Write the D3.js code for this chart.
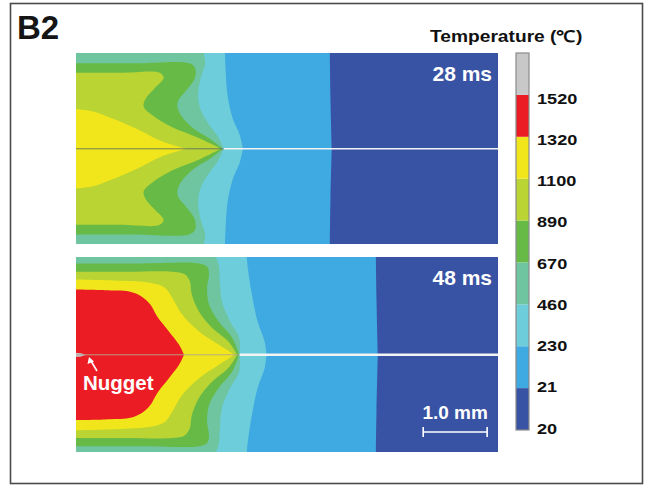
<!DOCTYPE html>
<html>
<head>
<meta charset="utf-8">
<script src="https://cdn.jsdelivr.net/npm/d3@7"></script>
<style>
  body { margin: 0; background: #fff; }
  svg { display: block; font-family: "Liberation Sans", Arial, sans-serif; }
</style>
</head>
<body>
<div id="chart"></div>
<script>
// Temperature bands (lower bound of each band, bottom to top) and their colours
const bandLabels = ["20", "21", "230", "460", "670", "890", "1100", "1320", "1520"];
const bandColors = ["#3953a4", "#3fa9e1", "#6dcdda", "#6ec5a0", "#68ba47", "#b9d433", "#f1e61c", "#ec1c24", "#c8c8c8"];

// Isotherm boundaries, upper half only (x: mm from left edge, y: mm above the interface).
// The region hotter than the level lies to the left of each curve; lower half is mirrored.
// 28 ms
const iso28_21   = [[3.97, 1.5], [3.98, 0.77], [4.0, 0]];
const iso28_230  = [[2.33, 1.5], [2.34, 1.23], [2.37, 0.84], [2.45, 0.48], [2.56, 0.22], [2.61, 0]];
const iso28_460  = [[2.0, 1.5], [2.02, 1.34], [1.95, 1.11], [1.91, 0.84], [1.95, 0.61], [2.06, 0.41], [2.22, 0.19], [2.31, 0]];
const iso28_670  = [[0, 1.34], [0.9, 1.34], [1.77, 1.34], [1.86, 1.27], [1.86, 1.11], [1.73, 0.92], [1.59, 0.73], [1.61, 0.58], [1.81, 0.34], [2.12, 0.14], [2.3, 0]];
const iso28_890  = [[0, 1.19], [0.7, 1.19], [1.31, 1.19], [1.37, 1.11], [1.23, 0.95], [1.08, 0.77], [1.06, 0.66], [1.19, 0.53], [1.5, 0.34], [1.92, 0.17], [2.27, 0]];
const iso28_1100 = [[0, 0.62], [0.25, 0.59], [0.56, 0.48], [0.98, 0.3], [1.34, 0.12], [1.73, 0]];
// 48 ms
const iso48_21   = [[4.69, 1.53], [4.7, 0.85], [4.72, 0]];
const iso48_230  = [[2.67, 1.53], [2.7, 1.26], [2.75, 0.95], [2.84, 0.52], [2.95, 0.21], [2.98, 0]];
const iso48_460  = [[2.19, 1.53], [2.23, 1.41], [2.25, 1.15], [2.28, 0.84], [2.41, 0.52], [2.55, 0.27], [2.56, 0]];
const iso48_670  = [[0, 1.43], [1.0, 1.43], [1.92, 1.43], [2.05, 1.38], [2.08, 1.26], [2.05, 1.05], [2.08, 0.79], [2.23, 0.52], [2.44, 0.27], [2.55, 0]];
const iso48_890  = [[0, 1.3], [0.8, 1.3], [1.5, 1.3], [1.7, 1.26], [1.78, 1.15], [1.81, 0.95], [1.92, 0.68], [2.12, 0.43], [2.39, 0.2], [2.52, 0]];
const iso48_1100 = [[0, 1.18], [0.72, 1.16], [1.14, 1.13], [1.39, 1.05], [1.5, 0.9], [1.66, 0.63], [1.92, 0.37], [2.23, 0.16], [2.48, 0]];
const iso48_1320 = [[0, 1.02], [0.45, 1.01], [0.83, 0.99], [1.03, 0.91], [1.16, 0.79], [1.27, 0.6], [1.45, 0.37], [1.61, 0.16], [1.69, 0]];
const iso48_1520 = [[0, 0.03], [0.08, 0.025], [0.15, 0]];

const panelLabels = ["28 ms", "48 ms"];
const notchTips = [2.31, 2.56]; // where the sheet interface opens (mm)
const panelWidth = 6.6; // mm
const scaleBar = [5.43, 6.43]; // 1.0 mm

const panels = [
  { label: panelLabels[0], tip: notchTips[0], top: 53, bottom: 244, yDomain: [1.5, -1.49], gap: 1.4,
    isos: [iso28_21, iso28_230, iso28_460, iso28_670, iso28_890, iso28_1100] },
  { label: panelLabels[1], tip: notchTips[1], top: 257, bottom: 452, yDomain: [1.53, -1.52], gap: 2.6,
    isos: [iso48_21, iso48_230, iso48_460, iso48_670, iso48_890, iso48_1100, iso48_1320, iso48_1520] }
];

const W = 650, H = 489;
const svg = d3.select("#chart").append("svg").attr("width", W).attr("height", H);

// outer frame
svg.append("rect")
  .attr("x", 10.5).attr("y", 3.5)
  .attr("width", 632).attr("height", 480)
  .attr("fill", "none").attr("stroke", "#4a4a4a").attr("stroke-width", 1.6);

svg.append("text")
  .attr("x", 17).attr("y", 39)
  .attr("font-size", 33).attr("font-weight", "bold").attr("fill", "#151515")
  .text("B2");

const x = d3.scaleLinear().domain([0, panelWidth]).range([76, 498]);

function halfPath(pts, y, sign) {
  const p = pts.map(d => [d[0], sign * d[1]]);
  if (pts[0][1] >= 1.49) p.unshift([pts[0][0], sign * (pts[0][1] + 0.25)]);
  const line = d3.line()
    .x(d => x(d[0]))
    .y(d => y(d[1]))
    .curve(d3.curveCatmullRom.alpha(0.5));
  return line(p) + `L${x(-0.2)},${y(0)}L${x(-0.2)},${y(p[0][1])}Z`;
}

panels.forEach((panel, pi) => {
  const y = d3.scaleLinear().domain(panel.yDomain).range([panel.top, panel.bottom]);
  const clipId = "clip" + pi;
  svg.append("clipPath").attr("id", clipId)
    .append("rect")
    .attr("x", x(0)).attr("y", panel.top)
    .attr("width", x(panelWidth) - x(0)).attr("height", panel.bottom - panel.top);

  const g = svg.append("g").attr("clip-path", `url(#${clipId})`);

  // coldest band fills the panel
  g.append("rect")
    .attr("x", x(0)).attr("y", panel.top)
    .attr("width", x(panelWidth) - x(0)).attr("height", panel.bottom - panel.top)
    .attr("fill", bandColors[0]);

  panel.isos.forEach((iso, i) => {
    [1, -1].forEach(sign => {
      g.append("path")
        .attr("d", halfPath(iso, y, sign))
        .attr("fill", bandColors[i + 1]);
    });
  });

  // interface: closed part and the open gap beyond the notch tip
  g.append("line")
    .attr("x1", x(0)).attr("x2", x(panel.tip))
    .attr("y1", y(0)).attr("y2", y(0))
    .attr("stroke", pi === 0 ? "#5a6a60" : "#b0a0a0")
    .attr("stroke-width", 0.8);
  g.append("line")
    .attr("x1", x(panel.tip)).attr("x2", x(panelWidth))
    .attr("y1", y(0)).attr("y2", y(0))
    .attr("stroke", "#f4f4f4")
    .attr("stroke-width", panel.gap);

  svg.append("text")
    .attr("x", 492).attr("y", panel.top + 28)
    .attr("text-anchor", "end")
    .attr("font-size", 21).attr("font-weight", "bold").attr("fill", "#fff")
    .text(panel.label);

  if (pi === 1) {
    // scale bar
    const yb = 432;
    svg.append("text")
      .attr("x", (x(scaleBar[0]) + x(scaleBar[1])) / 2).attr("y", 419)
      .attr("text-anchor", "middle")
      .attr("font-size", 19).attr("font-weight", "bold").attr("fill", "#fff")
      .text("1.0 mm");
    svg.append("line")
      .attr("x1", x(scaleBar[0])).attr("x2", x(scaleBar[1]))
      .attr("y1", yb).attr("y2", yb)
      .attr("stroke", "#fff").attr("stroke-width", 1.6);
    scaleBar.forEach(v => {
      svg.append("line")
        .attr("x1", x(v)).attr("x2", x(v))
        .attr("y1", yb - 5).attr("y2", yb + 5)
        .attr("stroke", "#fff").attr("stroke-width", 1.6);
    });

    // nugget annotation
    svg.append("line")
      .attr("x1", 97).attr("y1", 371)
      .attr("x2", 91).attr("y2", 361)
      .attr("stroke", "#fff").attr("stroke-width", 1.6);
    svg.append("path")
      .attr("d", "M89,357 L87.5,364 L94,361.5 Z")
      .attr("fill", "#fff");
    svg.append("text")
      .attr("x", 83).attr("y", 390)
      .attr("font-size", 20.5).attr("font-weight", "bold").attr("fill", "#fff")
      .text("Nugget");
  }
});

// colour bar
const barX = 516, barW = 13;
const yBar = d3.scaleLinear().domain([0, bandColors.length]).range([430, 53]);
const bar = svg.append("g");
bandColors.forEach((c, i) => {
  bar.append("rect")
    .attr("x", barX).attr("y", yBar(i + 1))
    .attr("width", barW).attr("height", yBar(i) - yBar(i + 1))
    .attr("fill", c);
});
bar.append("rect")
  .attr("x", barX).attr("y", yBar(bandColors.length))
  .attr("width", barW).attr("height", yBar(0) - yBar(bandColors.length))
  .attr("fill", "none").attr("stroke", "#8a8a8a").attr("stroke-width", 1.2);

// tick labels are slightly wide in the figure, so stretch them horizontally
const yLab = d3.scalePoint().domain(bandLabels.slice().reverse()).range([98, 428]);
svg.append("g")
  .attr("transform", "translate(537,0) scale(1.17,1)")
  .selectAll("text")
  .data(bandLabels)
  .enter()
  .append("text")
  .attr("x", 0)
  .attr("y", d => yLab(d))
  .attr("dy", "0.36em")
  .attr("font-size", 15.5).attr("font-weight", "bold").attr("fill", "#111")
  .text(d => d);

svg.append("text")
  .attr("transform", "translate(430,42) scale(1.2,1)")
  .attr("font-size", 16).attr("font-weight", "bold").attr("fill", "#111")
  .text("Temperature (℃)");
</script>
</body>
</html>
